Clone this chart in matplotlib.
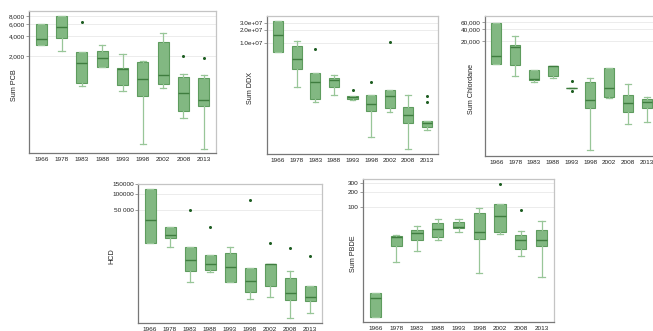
import matplotlib
matplotlib.use("Agg")
import matplotlib.pyplot as plt
from matplotlib.ticker import FixedLocator, FixedFormatter, NullLocator

plt.rcParams['font.family'] = ['Liberation Sans', 'DejaVu Sans']

years = ['1966', '1978', '1983', '1988', '1993', '1998', '2002', '2008', '2013']

# Sum PCB
pcb_lo = [2900, 2380, 706, 1365, 594, 97, 659, 236, 81]
pcb_q1 = [2900, 3700, 795, 1365, 731, 500, 757, 297, 362]
pcb_med = [3660, 5540, 1550, 1890, 1260, 914, 1023, 562, 431]
pcb_q3 = [6000, 8000, 2330, 2380, 1340, 1625, 3250, 966, 946]
pcb_hi = [6000, 8000, 2330, 2930, 2170, 1680, 4400, 1060, 1035]
pcb_out = [[], [], [6590], [], [], [], [], [2000], [1890]]

# Sum DDX
ddx_lo = [6.19e6, 9.6e5, 4.3e5, 6.36e5, 4.8e5, 6.9e4, 2.61e5, 3.5e4, 1.0e5]
ddx_q1 = [6.19e6, 2.5e6, 5.06e5, 9.6e5, 5.22e5, 2.71e5, 3.13e5, 1.45e5, 1.14e5]
ddx_med = [1.56e7, 4.27e6, 1.27e6, 1.41e6, 5.62e5, 3.94e5, 6.03e5, 2.19e5, 1.45e5]
ddx_q3 = [3.28e7, 8.8e6, 2.08e6, 1.6e6, 5.93e5, 6.36e5, 8.43e5, 3.41e5, 1.59e5]
ddx_hi = [3.28e7, 1.15e7, 2.08e6, 1.85e6, 5.93e5, 6.36e5, 8.43e5, 6.25e5, 1.59e5]
ddx_out = [[], [], [7.4e6], [], [8.2e5], [1.25e6], [1.09e7], [], [6.1e5, 4.3e5]]

# Sum Chlordane
chl_lo = [5410, 2550, 1830, 2270, 1274, 35.2, 740, 158, 185]
chl_q1 = [5410, 5100, 2100, 2550, 1274, 415, 770, 318, 401]
chl_med = [8260, 13900, 2150, 4650, 1274, 647, 1274, 535, 577]
chl_q3 = [58000, 16250, 3820, 4710, 1274, 1830, 4050, 849, 674]
chl_hi = [58000, 26200, 3820, 4710, 1274, 2350, 4050, 1606, 783]
chl_out = [[], [], [], [], [1977, 1090], [], [], [], []]

# HCD
hcd_lo = [12200, 10470, 2320, 3490, 2350, 1130, 1245, 500, 618]
hcd_q1 = [12200, 15500, 3800, 3960, 2350, 1520, 1960, 1080, 1040]
hcd_med = [33200, 17400, 6050, 4960, 4370, 2420, 4960, 1440, 1245]
hcd_q3 = [121000, 24000, 10160, 7350, 7890, 4190, 4960, 2710, 1960]
hcd_hi = [121000, 24000, 10160, 7350, 10470, 4190, 4960, 3800, 1960]
hcd_out = [[], [], [51000], [24400], [], [76300], [12050], [10040], [7060]]

# Sum PBDE
pbde_lo = [0.569, 7.33, 12.5, 20.9, 30.9, 4.37, 27.4, 9.86, 3.62]
pbde_q1 = [0.569, 15.8, 21.2, 23.8, 36.7, 21.9, 30.5, 13.5, 16.0]
pbde_med = [1.35, 24.1, 29.4, 34.6, 38.0, 30.0, 65.5, 20.6, 20.6]
pbde_q3 = [1.71, 25.2, 33.0, 46.5, 48.8, 73.3, 112, 26.1, 34.0]
pbde_hi = [1.71, 26.1, 40.4, 55.3, 55.3, 92.7, 112, 31.5, 51.8]
pbde_out = [[], [], [], [], [], [], [290], [85.7], []]

BOX_FACE = '#82b882'
BOX_EDGE = '#5e9c5e'
MED_COL = '#3f7d3f'
WHISK_COL = '#98c698'
FLIER_COL = '#1e5e22'


def make_stats(lo, q1, med, q3, hi, out):
    return [dict(whislo=a, q1=b, med=c, q3=d, whishi=e, fliers=f, label=y)
            for a, b, c, d, e, f, y in zip(lo, q1, med, q3, hi, out, years)]


def draw_panel(rect, stats, ylim, ticks, ticklabels, ylabel, label_x):
    ax = fig.add_axes(rect)
    ax.set_yscale('log')
    ax.bxp(stats, positions=range(1, 10), widths=0.55, patch_artist=True,
           capwidths=0.3,
           boxprops=dict(facecolor=BOX_FACE, edgecolor=BOX_EDGE, linewidth=0.8),
           medianprops=dict(color=MED_COL, linewidth=1.0),
           whiskerprops=dict(color=WHISK_COL, linewidth=0.9),
           capprops=dict(color=WHISK_COL, linewidth=0.9),
           flierprops=dict(marker='o', markersize=2.2, markerfacecolor=FLIER_COL,
                           markeredgecolor=FLIER_COL, markeredgewidth=0))
    ax.set_xlim(0.4, 9.6)
    ax.set_ylim(*ylim)
    ax.yaxis.set_major_locator(FixedLocator(ticks))
    ax.yaxis.set_major_formatter(FixedFormatter(ticklabels))
    ax.yaxis.set_minor_locator(NullLocator())
    ax.grid(axis='y', color='#ececec', linewidth=0.7)
    ax.set_axisbelow(True)
    ax.tick_params(axis='y', labelsize=4.6, length=2, width=0.5, pad=1,
                   color='#777777', labelcolor='#222222')
    ax.tick_params(axis='x', labelsize=4.6, length=0, pad=3, labelcolor='#222222')
    for side in ['left', 'bottom']:
        ax.spines[side].set_color('#777777')
        ax.spines[side].set_linewidth(0.9)
    for side in ['top', 'right']:
        ax.spines[side].set_color('#c4c4c4')
        ax.spines[side].set_linewidth(0.9)
    ax.set_ylabel(ylabel, fontsize=5.2, color='#222222')
    ax.yaxis.set_label_coords(label_x, 0.48)
    return ax


W, H = 653, 331
fig = plt.figure(figsize=(W / 100, H / 100), dpi=100)


def rect(left, right, top, bottom):
    return [left / W, (H - bottom) / H, (right - left) / W, (bottom - top) / H]


draw_panel(rect(29, 216, 11, 153),
           make_stats(pcb_lo, pcb_q1, pcb_med, pcb_q3, pcb_hi, pcb_out),
           (70, 9530), [2000, 4000, 6000, 8000],
           ['2,000', '4,000', '6,000', '8,000'], 'Sum PCB', -0.058)

draw_panel(rect(267, 438, 16, 154),
           make_stats(ddx_lo, ddx_q1, ddx_med, ddx_q3, ddx_hi, ddx_out),
           (27400, 4.28e7), [1e7, 2e7, 3e7],
           ['1.0e+07', '2.0e+07', '3.0e+07'], 'Sum DDX', -0.076)

draw_panel(rect(485, 658, 16, 156),
           make_stats(chl_lo, chl_q1, chl_med, chl_q3, chl_hi, chl_out),
           (25.4, 84900), [20000, 40000, 60000],
           ['20,000', '40,000', '60,000'], 'Sum Chlordane', -0.058)

draw_panel(rect(138, 322, 184, 323),
           make_stats(hcd_lo, hcd_q1, hcd_med, hcd_q3, hcd_hi, hcd_out),
           (405, 152000), [50000, 100000, 150000],
           ['50 000', '100000', '150000'], 'HCD', -0.125)

draw_panel(rect(363, 554, 179, 322),
           make_stats(pbde_lo, pbde_q1, pbde_med, pbde_q3, pbde_hi, pbde_out),
           (0.44, 367), [100, 200, 300],
           ['100', '200', '300'], 'Sum PBDE', -0.031)

fig.savefig('out.png', dpi=100)
